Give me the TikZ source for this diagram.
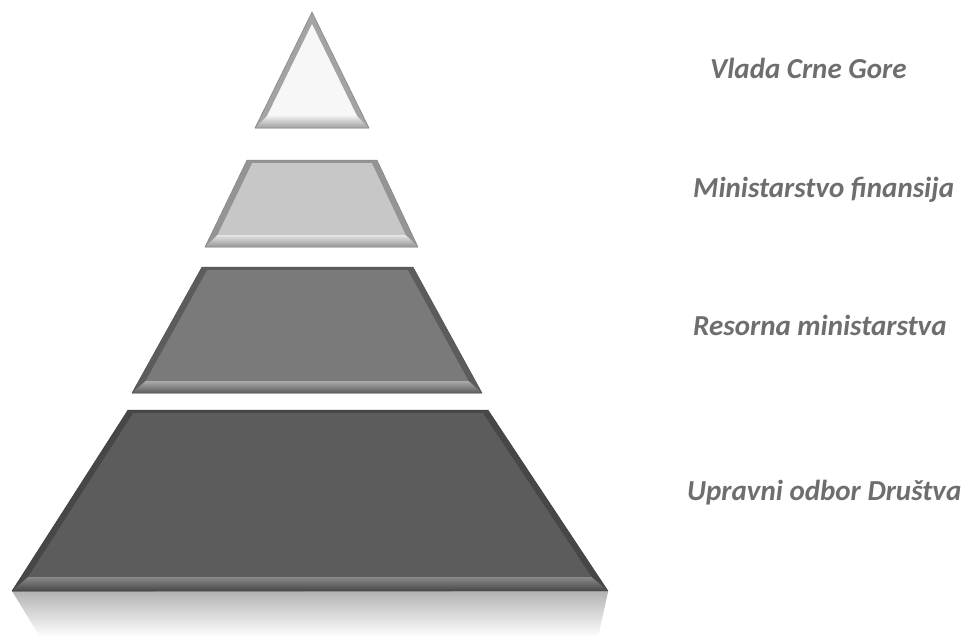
\documentclass[tikz,border=0pt]{standalone}
\usepackage{fontspec}
\setmainfont{Carlito}
\begin{document}
\begin{tikzpicture}[x=1pt,y=-1pt,
  lbl/.style={anchor=base west,inner sep=0pt,text=labelgray,font=\fontsize{29}{32}\selectfont\bfseries\itshape}]
\definecolor{labelgray}{HTML}{6E6E6E}
\colorlet{edgeA}{black!42}\colorlet{baseA}{black!22}\colorlet{hiA}{black!10}
\colorlet{edgeB}{black!64}\colorlet{baseB}{black!52}\colorlet{hiB}{black!33}
\colorlet{edgeC}{black!72}\colorlet{baseC}{black!64}\colorlet{hiC}{black!46}
\useasboundingbox (0,0) rectangle (961,638);
\fill[white] (0,0) rectangle (961,638);
% generic bevelled trapezoid
\newcommand\bvdS{6}
\newcommand\bvdT{3}
\newcommand\bvdB{12}
\newcommand\bevtrap[9]{%
  \pgfmathsetmacro\bvH{#6-#5}%
  \pgfmathsetmacro\bvsL{(#1-#4)/\bvH}%
  \pgfmathsetmacro\bvsR{(#3-#2)/\bvH}%
  \pgfmathsetmacro\bvkL{\bvdS*sqrt(1+\bvsL*\bvsL)}%
  \pgfmathsetmacro\bvkR{\bvdS*sqrt(1+\bvsR*\bvsR)}%
  \pgfmathsetmacro\bvyT{#5+\bvdT}%
  \pgfmathsetmacro\bvyB{#6-\bvdB}%
  \pgfmathsetmacro\bvxTL{#4+\bvsL*(#6-\bvyT)+\bvkL}%
  \pgfmathsetmacro\bvxBL{#4+\bvsL*(#6-\bvyB)+\bvkL}%
  \pgfmathsetmacro\bvxTR{#3-\bvsR*(#6-\bvyT)-\bvkR}%
  \pgfmathsetmacro\bvxBR{#3-\bvsR*(#6-\bvyB)-\bvkR}%
  \fill[#7] (#1,#5) -- (#2,#5) -- (#3,#6) -- (#4,#6) -- cycle;
  \fill[#8] (\bvxTL,\bvyT) -- (\bvxTR,\bvyT) -- (\bvxBR,\bvyB) -- (\bvxBL,\bvyB) -- cycle;
  \shade[top color=#9, bottom color=#7] (\bvxBL,\bvyB) -- (\bvxBR,\bvyB) -- (#3,#6) -- (#4,#6) -- cycle;
  \draw[#7!90!black, line width=0.5pt, line join=round] (#1,#5) -- (#2,#5) -- (#3,#6) -- (#4,#6) -- cycle;
}
% reflection under the base
\shade[top color=black!30, bottom color=white] (12,591) -- (608,592) -- (598,637) -- (40,637) -- cycle;
% top triangle
\fill[black!36] (312,12) -- (369,128) -- (255,128) -- cycle;
\fill[black!3] (312,24) -- (357,116) -- (267,116) -- cycle;
\shade[top color=black!6, bottom color=black!38] (267,116) -- (357,116) -- (369,128) -- (255,128) -- cycle;
\draw[black!50, line width=0.5pt, line join=round] (312,12) -- (369,128) -- (255,128) -- cycle;
% trapezoids
\bevtrap{247}{377}{418}{205}{160}{247}{edgeA}{baseA}{hiA}
\bevtrap{202}{413}{482}{132}{267}{393}{edgeB}{baseB}{hiB}
\renewcommand\bvdB{14}
\bevtrap{128}{488}{608}{12}{410}{591}{edgeC}{baseC}{hiC}
% labels
\node[lbl] (t1) at (710,78) {Vlada Crne Gore};
\node[lbl] (t2) at (693,197) {Ministarstvo finansija};
\node[lbl] (t3) at (693,335) {Resorna ministarstva};
\node[lbl] (t4) at (687,500) {Upravni odbor Društva};
\end{tikzpicture}
\end{document}
